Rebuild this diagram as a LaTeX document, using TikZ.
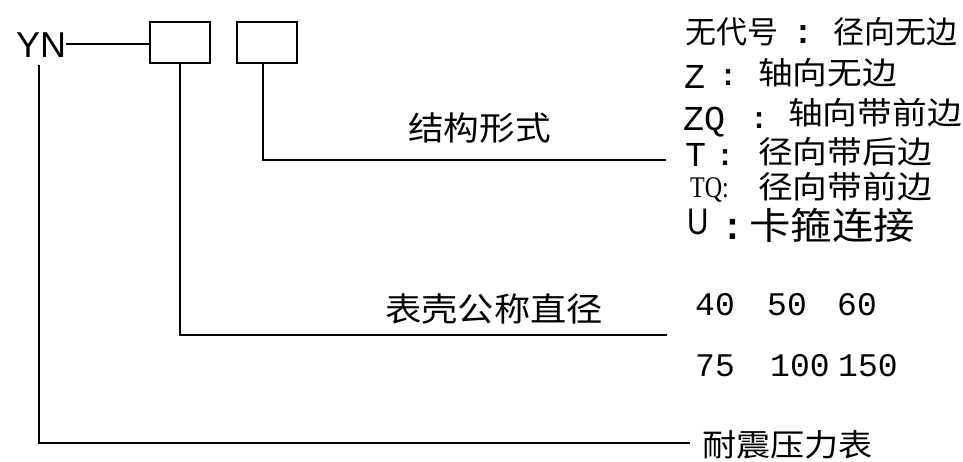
\documentclass[tikz,border=0pt]{standalone}
\usepackage{fontspec}
\newfontfamily\cjkfont{Noto Sans CJK SC}
\newfontfamily\cjkwide[FakeStretch=1.12]{Noto Sans CJK SC}
\newfontfamily\cjkwideb[FakeStretch=1.08]{Noto Sans CJK SC}
\newfontfamily\cjkwidec[FakeStretch=1.10]{Noto Sans CJK SC}
\newfontfamily\monofont{Liberation Mono}
\newfontfamily\monobold{Liberation Mono Bold}
\newfontfamily\sansfont{Liberation Sans}
\newfontfamily\sansnarrow[FakeStretch=0.8]{Liberation Sans}
\newfontfamily\serifnarrow[FakeStretch=0.8]{Liberation Serif}
\newcommand\fsz[1]{\fontsize{#1}{#1}\selectfont}
\begin{document}
\begin{tikzpicture}[x=1pt,y=-1pt,
  lbl/.style={inner sep=0pt, anchor=west},
  colonmark/.style={inner sep=0pt, anchor=center},
  codebox/.style={draw, line width=1.8pt, minimum width=60pt, minimum height=41pt, inner sep=0pt},
  leader/.style={line width=1.8pt}]
\useasboundingbox[fill=white] (0,0) rectangle (963,461);

% code head and boxes
\node[lbl, font=\sansfont\fsz{36}] (yn) at (16,45) {YN};
\node[codebox] (box1) at (180,42.5) {};
\node[codebox] (box2) at (267,42.5) {};
\coordinate (ynright) at (66,44);
\coordinate (ynbottom) at (39,65);
\coordinate (tail2) at (666,160);
\coordinate (tail1) at (667,335);
\coordinate (tail0) at (690,443);

\draw[leader] (ynright) -- (box1.west |- ynright);
\draw[leader] ([xshift=-4pt]box2.south) |- (tail2);
\draw[leader] (box1.south) |- (tail1);
\draw[leader] (ynbottom) |- (tail0);

% labels on leaders
\node[lbl, font=\cjkwideb\fsz{33}] (jgxs) at (408,128) {结构形式};
\node[lbl, font=\cjkwidec\fsz{33}] (bkgc) at (385,309) {表壳公称直径};
\node[lbl, font=\cjkwidec\fsz{31}] (nzyl) at (702,445) {耐震压力表};

% structure options
\node[lbl, font=\cjkfont\fsz{31}] (o1a) at (685,32) {无代号};
\node[colonmark, font=\monobold\fsz{34}] (o1c) at (803,34) {:};
\node[lbl, font=\cjkfont\fsz{31}] (o1b) at (833,32) {径向无边};

\node[lbl, font=\monofont\fsz{35}] (o2a) at (684,77) {Z};
\node[colonmark, font=\monobold\fsz{30}] (o2c) at (728,78) {:};
\node[lbl, font=\cjkwide\fsz{31}] (o2b) at (758,73) {轴向无边};

\node[lbl, font=\monofont\fsz{35}] (o3a) at (683,122) {ZQ};
\node[colonmark, font=\monobold\fsz{30}] (o3c) at (759,121) {:};
\node[lbl, font=\cjkwide\fsz{31}] (o3b) at (788,113) {轴向带前边};

\node[lbl, font=\monofont\fsz{35}] (o4a) at (685,155) {T};
\node[colonmark, font=\monobold\fsz{30}] (o4c) at (725,158) {:};
\node[lbl, font=\cjkwide\fsz{31}] (o4b) at (758,152) {径向带后边};

\node[lbl, font=\serifnarrow\fsz{30}] (o5a) at (690,190) {TQ:};
\node[lbl, font=\cjkwide\fsz{31}] (o5b) at (758,187) {径向带前边};

\node[lbl, font=\sansnarrow\fsz{37}] (o6a) at (687,222) {U};
\node[colonmark, font=\monobold\fsz{38}] (o6c) at (733,229) {:};
\node[lbl, font=\cjkwide\fsz{37}] (o6b) at (749,225) {卡箍连接};

% diameters
\node[lbl, font=\monofont\fsz{33}] (d40) at (695,305) {40};
\node[lbl, font=\monofont\fsz{33}] (d50) at (767,305) {50};
\node[lbl, font=\monofont\fsz{33}] (d60) at (837,305) {60};
\node[lbl, font=\monofont\fsz{33}] (d75) at (695,366) {75};
\node[lbl, font=\monofont\fsz{33}] (d100) at (770,366) {100};
\node[lbl, font=\monofont\fsz{33}] (d150) at (838,366) {150};
\end{tikzpicture}
\end{document}
